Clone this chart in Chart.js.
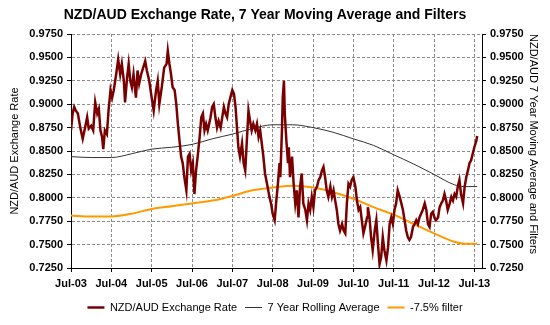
<!DOCTYPE html>
<html>
<head>
<meta charset="utf-8">
<script src="https://cdn.jsdelivr.net/npm/chart.js@4.4.0/dist/chart.umd.min.js"></script>
<style>
  html, body { margin: 0; padding: 0; background: #fff; }
</style>
</head>
<body>
<canvas id="chart" width="550" height="325"></canvas>
<script>
// years since Jul-03
var rateYears = [
    0.00,0.04,0.08,0.12,0.17,0.23,0.29,0.35,0.40,0.44,
    0.50,0.55,0.60,0.65,0.69,0.73,0.77,0.80,0.84,0.89,
    0.93,0.98,1.02,1.06,1.12,1.17,1.22,1.26,1.31,1.34,
    1.39,1.43,1.47,1.51,1.55,1.61,1.65,1.69,1.74,1.79,
    1.84,1.88,1.94,2.00,2.05,2.11,2.15,2.19,2.25,2.31,
    2.37,
    2.40,2.44,2.48,2.52,2.57,2.61,2.65,2.69,2.73,2.77,
    2.81,2.86,2.90,2.94,2.98,3.02,3.06,3.10,3.14,3.19,
    3.23,3.27,3.31,3.35,3.39,3.46,3.50,3.54,3.58,3.62,
    3.66,3.71,3.75,3.79,3.83,3.87,3.91,3.95,4.00,4.04,
    4.08,4.12,4.15,4.19,4.24,4.28,4.32,4.36,4.40,4.44,
    4.48,4.52,4.57,4.61,4.65,4.69,4.73,4.77,4.81,4.86,
    4.92,4.96,5.00,5.05,5.09,5.13,5.17,5.19,5.23,5.25,
    5.28,5.30,5.34,5.38,5.40,5.43,5.48,5.52,5.56,5.60,
    5.64,5.68,5.72,5.76,5.81,5.85,5.89,5.93,5.97,6.01,
    6.05,6.10,6.14,6.18,6.22,6.26,6.30,6.34,6.38,6.43,
    6.47,6.51,6.55,6.59,6.63,6.67,6.72,6.76,6.80,6.84,
    6.88,6.92,6.96,7.00,7.05,7.09,7.13,7.17,7.21,7.25,
    7.29,7.34,
    7.36,7.40,7.44,7.48,7.53,7.57,7.61,7.65,7.69,7.73,
    7.77,7.82,7.86,7.90,7.94,7.98,8.02,8.06,8.10,8.15,
    8.19,8.23,8.27,8.31,8.35,8.39,8.43,8.48,8.52,8.56,
    8.60,8.64,8.68,8.72,8.77,8.81,8.85,8.89,8.93,8.97,
    9.01,9.05,9.10,9.14,9.18,9.22,9.26,9.30,9.34,9.39,
    9.43,9.47,9.51,9.55,9.59,9.63,9.67,9.72,9.76,9.80,
    9.84,9.88,9.92,9.96,10.00,10.05,10.07
];
var rateValues = [
    0.872,0.890,0.897,0.893,0.890,0.875,0.863,0.875,0.886,0.874,
    0.877,0.872,0.902,0.890,0.895,0.872,0.865,0.852,0.872,0.868,
    0.893,0.915,0.907,0.915,0.932,0.948,0.932,0.943,0.925,0.902,
    0.928,0.943,0.925,0.918,0.932,0.907,0.936,0.922,0.932,0.939,
    0.946,0.936,0.925,0.907,0.893,0.915,0.925,0.900,0.918,0.939,
    0.943,
    0.957,0.943,0.932,0.918,0.915,0.900,0.879,0.861,0.844,0.837,
    0.822,0.808,0.844,0.847,0.829,0.837,0.804,0.829,0.844,0.865,
    0.886,0.890,0.872,0.879,0.872,0.886,0.897,0.900,0.886,0.875,
    0.882,0.875,0.886,0.897,0.890,0.886,0.900,0.907,0.915,0.911,
    0.897,0.872,0.854,0.844,0.858,0.837,0.829,0.861,0.893,0.882,
    0.872,0.879,0.872,0.879,0.865,0.872,0.858,0.844,0.826,0.815,
    0.801,0.794,0.783,0.776,0.797,0.815,0.837,0.822,0.872,0.907,
    0.925,0.890,0.861,0.837,0.854,0.822,0.844,0.815,0.794,0.808,
    0.779,0.812,0.826,0.794,0.787,0.776,0.794,0.787,0.801,0.790,
    0.808,0.812,0.819,0.822,0.829,0.833,0.822,0.808,0.801,0.812,
    0.801,0.808,0.797,0.787,0.772,0.765,0.772,0.765,0.762,0.794,
    0.815,0.812,0.819,0.822,0.812,0.797,0.787,0.790,0.776,0.762,
    0.769,0.779,
    0.790,0.779,0.758,0.744,0.765,0.776,0.751,0.729,0.737,0.758,
    0.744,0.733,0.747,0.772,0.779,0.772,0.787,0.794,0.808,0.801,
    0.794,0.787,0.776,0.765,0.758,0.755,0.758,0.769,0.772,0.776,
    0.772,0.779,0.783,0.787,0.794,0.787,0.772,0.769,0.783,0.785,
    0.779,0.776,0.779,0.790,0.794,0.797,0.804,0.797,0.787,0.794,
    0.801,0.797,0.804,0.801,0.812,0.819,0.804,0.794,0.812,0.822,
    0.829,0.837,0.840,0.847,0.854,0.861,0.866
];

var avgYears = [0, 0.5, 1, 1.5, 2, 2.5, 3, 3.5, 4, 4.5, 5, 5.5, 6, 6.5, 7, 7.5, 8, 8.5, 9, 9.5, 9.75, 10.07];
var avgValues = [0.844, 0.843, 0.843, 0.847, 0.852, 0.854, 0.857, 0.863, 0.868, 0.874, 0.878,
                 0.878, 0.875, 0.870, 0.863, 0.856, 0.846, 0.836, 0.825, 0.814, 0.812, 0.812];
var filterValues = [0.781, 0.780, 0.780, 0.783, 0.788, 0.791, 0.794, 0.797, 0.802, 0.808, 0.811,
                    0.813, 0.811, 0.806, 0.799, 0.790, 0.782, 0.772, 0.762, 0.753, 0.751, 0.751];

var yearLabels = ['Jul-03', 'Jul-04', 'Jul-05', 'Jul-06', 'Jul-07', 'Jul-08',
                  'Jul-09', 'Jul-10', 'Jul-11', 'Jul-12', 'Jul-13'];

var titleText = 'NZD/AUD Exchange Rate, 7 Year Moving Average and Filters';

function toPoints(xs, ys) {
    return xs.map(function (x, i) { return {x: x, y: ys[i]}; });
}

Chart.defaults.font.family = '"Liberation Sans", Arial, sans-serif';
Chart.defaults.color = '#000';

var titlePlugin = {
    id: 'plotTitle',
    afterDraw: function (chart) {
        var ctx = chart.ctx;
        ctx.save();
        ctx.font = 'bold 14px "Liberation Sans", Arial, sans-serif';
        ctx.fillStyle = '#000';
        ctx.textAlign = 'center';
        ctx.textBaseline = 'middle';
        ctx.fillText(titleText, 265, 15);
        ctx.restore();
    }
};

var gridStyle = {
    color: '#8c8c8c',
    tickColor: '#000',
    tickBorderDash: [],
    tickLength: 4
};
var dashedBorder = { color: '#000', dash: [3, 2] };

var ctx = document.getElementById('chart');
var myChart = new Chart(ctx, {
    type: 'line',
    data: {
        datasets: [
            {
                label: 'NZD/AUD Exchange Rate',
                data: toPoints(rateYears, rateValues),
                borderColor: '#7a0000', backgroundColor: '#7a0000',
                borderWidth: 2.5, pointRadius: 0, tension: 0,
                yAxisID: 'y'
            },
            {
                label: '7 Year Rolling Average',
                data: toPoints(avgYears, avgValues),
                borderColor: '#333333', backgroundColor: '#333333',
                borderWidth: 1, pointRadius: 0, cubicInterpolationMode: 'monotone',
                yAxisID: 'y2'
            },
            {
                label: '-7.5% filter',
                data: toPoints(avgYears, filterValues),
                borderColor: '#ff9900', backgroundColor: '#ff9900',
                borderWidth: 2, pointRadius: 0, cubicInterpolationMode: 'monotone',
                yAxisID: 'y2'
            }
        ]
    },
    options: {
        responsive: false,
        animation: false,
        layout: { padding: { top: 34, left: 0, right: 0, bottom: 2 } },
        plugins: {
            title: { display: false },
            tooltip: { enabled: false },
            legend: {
                position: 'bottom',
                labels: {
                    font: { size: 11 },
                    usePointStyle: true,
                    pointStyle: 'line',
                    pointStyleWidth: 17,
                    boxHeight: 3,
                    padding: 8
                }
            }
        },
        scales: {
            x: {
                type: 'linear',
                min: 0,
                max: 10.19,
                grid: gridStyle,
                border: dashedBorder,
                ticks: {
                    stepSize: 1,
                    includeBounds: false,
                    autoSkip: false,
                    maxRotation: 0,
                    padding: 5,
                    font: { size: 11, weight: 'bold' },
                    callback: function (v) { return yearLabels[v]; }
                },
                afterFit: function (scale) { scale.height = 26; }
            },
            y: {
                position: 'left',
                min: 0.725,
                max: 0.975,
                grid: gridStyle,
                border: dashedBorder,
                ticks: {
                    stepSize: 0.025,
                    padding: 4,
                    font: { size: 11, weight: 'bold' },
                    callback: function (v) { return v.toFixed(4); }
                },
                title: {
                    display: true,
                    text: 'NZD/AUD Exchange Rate',
                    font: { size: 11 },
                    padding: { top: 8, bottom: 0 }
                },
                afterFit: function (scale) { scale.width = 71; }
            },
            y2: {
                position: 'right',
                min: 0.725,
                max: 0.975,
                grid: { drawOnChartArea: false, tickColor: '#000', tickLength: 4 },
                border: { color: '#000' },
                ticks: {
                    stepSize: 0.025,
                    padding: 4,
                    font: { size: 11, weight: 'bold' },
                    callback: function (v) { return v.toFixed(4); }
                },
                title: {
                    display: true,
                    text: 'NZD/AUD 7 Year Moving Average and Filters',
                    align: 'end',
                    font: { size: 11 },
                    padding: { top: 10, bottom: 0 }
                },
                afterFit: function (scale) { scale.width = 68; }
            }
        }
    },
    plugins: [titlePlugin]
});
</script>
</body>
</html>
